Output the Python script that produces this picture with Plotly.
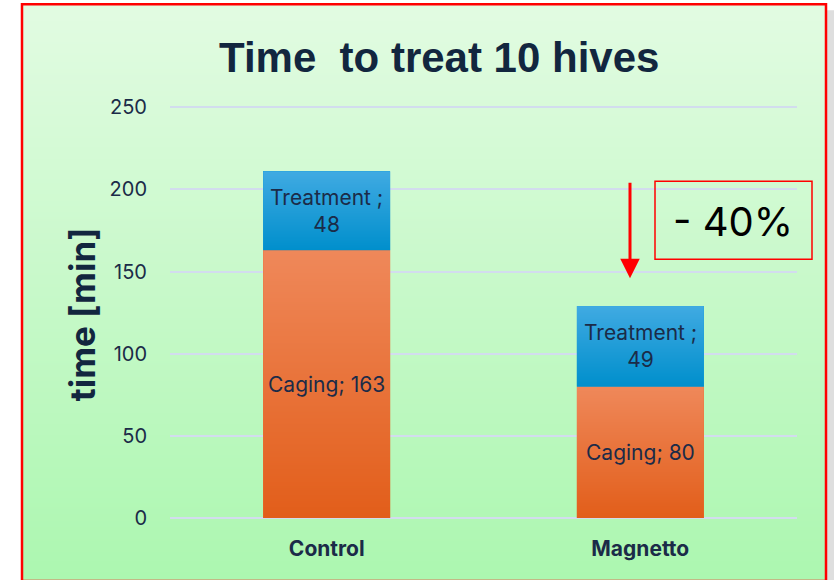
import base64, struct, zlib
import plotly.graph_objects as go

categories = ["Control", "Magnetto"]
caging = [163, 80]
treatment = [48, 49]
y_ticks = [0, 50, 100, 150, 200, 250]
title_text = "Time  to treat 10 hives"
y_title = "time [min]"
reduction_label = "- 40%"
arrow_tail = 205
arrow_tip = 146

# ---------- vertical gradient images (PNG built in memory) ----------
def gradient_png(top, bottom, h=256):
    raw = b""
    for i in range(h):
        t = i / (h - 1)
        c = bytes(int(round(top[k] + (bottom[k] - top[k]) * t)) for k in range(3))
        raw += b"\x00" + c
    def chunk(tag, data):
        return struct.pack(">I", len(data)) + tag + data + struct.pack(">I", zlib.crc32(tag + data) & 0xffffffff)
    png = b"\x89PNG\r\n\x1a\n"
    png += chunk(b"IHDR", struct.pack(">IIBBBBB", 1, h, 8, 2, 0, 0, 0))
    png += chunk(b"IDAT", zlib.compress(raw))
    png += chunk(b"IEND", b"")
    return "data:image/png;base64," + base64.b64encode(png).decode()

bg = gradient_png((226, 251, 226), (172, 247, 176))
orange_grad = gradient_png((239, 136, 90), (226, 94, 26))
blue_grad = gradient_png((64, 170, 226), (0, 143, 204))

W, H = 835, 580
YMAX = 252
L, R = 170, 38
B = 62
ph = (518 - 107) * YMAX / 250
T = round(H - B - ph)
pw = W - L - R
def px(x):
    return (x - L) / pw
def py(y):
    return (H - B - y) / ph

BARGAP = 0.595
BW = 1 - BARGAP
text_color = "#1b2b48"
sans = "Inter, Noto Sans, sans-serif"

fig = go.Figure()
fig.add_trace(go.Bar(
    x=categories, y=caging, name="Caging",
    marker=dict(color="#ec7236", line=dict(width=0)),
))
fig.add_trace(go.Bar(
    x=categories, y=treatment, name="Treatment",
    marker=dict(color="#1a9fdb", line=dict(width=0)),
))

images = [dict(source=bg, xref="paper", yref="paper",
               x=px(22), y=py(4), sizex=px(826) - px(22), sizey=py(4) - py(580),
               sizing="stretch", xanchor="left", yanchor="top", layer="below")]
annotations = []
for i, cat in enumerate(categories):
    # gradient overlay on each stacked segment, placed with the axes' data coordinates
    images.append(dict(source=orange_grad, xref="x", yref="y", x=i - BW / 2, y=caging[i],
                       sizex=BW, sizey=caging[i], sizing="stretch",
                       xanchor="left", yanchor="top", layer="above"))
    images.append(dict(source=blue_grad, xref="x", yref="y", x=i - BW / 2,
                       y=caging[i] + treatment[i], sizex=BW, sizey=treatment[i],
                       sizing="stretch", xanchor="left", yanchor="top", layer="above"))
    annotations.append(dict(text=f"Caging; {caging[i]}", x=i, y=caging[i] / 2,
                            xref="x", yref="y", showarrow=False,
                            font=dict(family=sans, size=21, color=text_color)))
    annotations.append(dict(text=f"Treatment ;<br>{treatment[i]}", x=i,
                            y=caging[i] + treatment[i] / 2, xref="x", yref="y",
                            showarrow=False,
                            font=dict(family=sans, size=21, color=text_color)))

annotations += [
    dict(text=f"<b>{title_text}</b>", xref="paper", yref="paper", x=px(439), y=py(57),
         showarrow=False, xanchor="center", yanchor="middle",
         font=dict(family="Liberation Sans, Arial, sans-serif", size=42, color="#12263f")),
    dict(text=f"<b>{y_title}</b>", xref="paper", yref="paper", x=px(82), y=py(314),
         showarrow=False, textangle=-90, xanchor="center", yanchor="middle",
         font=dict(family=sans, size=35, color="#12263f")),
    dict(text=reduction_label, xref="paper", yref="paper", x=px(733), y=py(221),
         showarrow=False, xanchor="center", yanchor="middle",
         font=dict(family=sans, size=40, color="black")),
    dict(x=(630 - L) / (pw / 2) - 0.5, y=arrow_tip, xref="x", yref="y",
         ax=(630 - L) / (pw / 2) - 0.5, ay=arrow_tail, axref="x", ayref="y",
         text="", showarrow=True, arrowhead=2, arrowsize=1.3, arrowwidth=3,
         arrowcolor="#ff0000"),
]

fig.update_layout(
    width=W, height=H,
    margin=dict(l=L, r=R, t=T, b=B),
    barmode="stack", bargap=BARGAP,
    showlegend=False,
    paper_bgcolor="white", plot_bgcolor="rgba(0,0,0,0)",
    font=dict(family=sans, color=text_color),
    images=images,
    shapes=[
        dict(type="rect", xref="paper", yref="paper", x0=px(827), x1=px(834), y0=py(580), y1=py(10),
             fillcolor="#dedede", line=dict(width=0), layer="below"),
        dict(type="rect", xref="paper", yref="paper", x0=px(22), x1=px(826), y0=py(581), y1=py(4),
             line=dict(color="#ff0000", width=2.5), fillcolor="rgba(0,0,0,0)"),
        dict(type="rect", xref="paper", yref="paper", x0=px(655), x1=px(812), y0=py(259), y1=py(181),
             line=dict(color="#ff0000", width=1.5), fillcolor="rgba(0,0,0,0)"),
    ],
    annotations=annotations,
)
fig.update_xaxes(
    type="category", showgrid=False, zeroline=False, showline=False,
    tickfont=dict(family=sans, size=21, color=text_color, weight="bold"),
    ticklabelstandoff=16,
)
fig.update_yaxes(
    range=[0, YMAX], tickvals=y_ticks, showgrid=True, gridcolor="#d2dcee", gridwidth=2,
    zeroline=True, zerolinecolor="#d2dcee", zerolinewidth=2, showline=False,
    tickfont=dict(family=sans, size=20, color=text_color),
    ticklabelstandoff=22,
)
fig.write_html(
    "out.html",
    config={"displayModeBar": False},
    post_script="document.body.style.margin='0';document.body.style.overflow='hidden';",
)
